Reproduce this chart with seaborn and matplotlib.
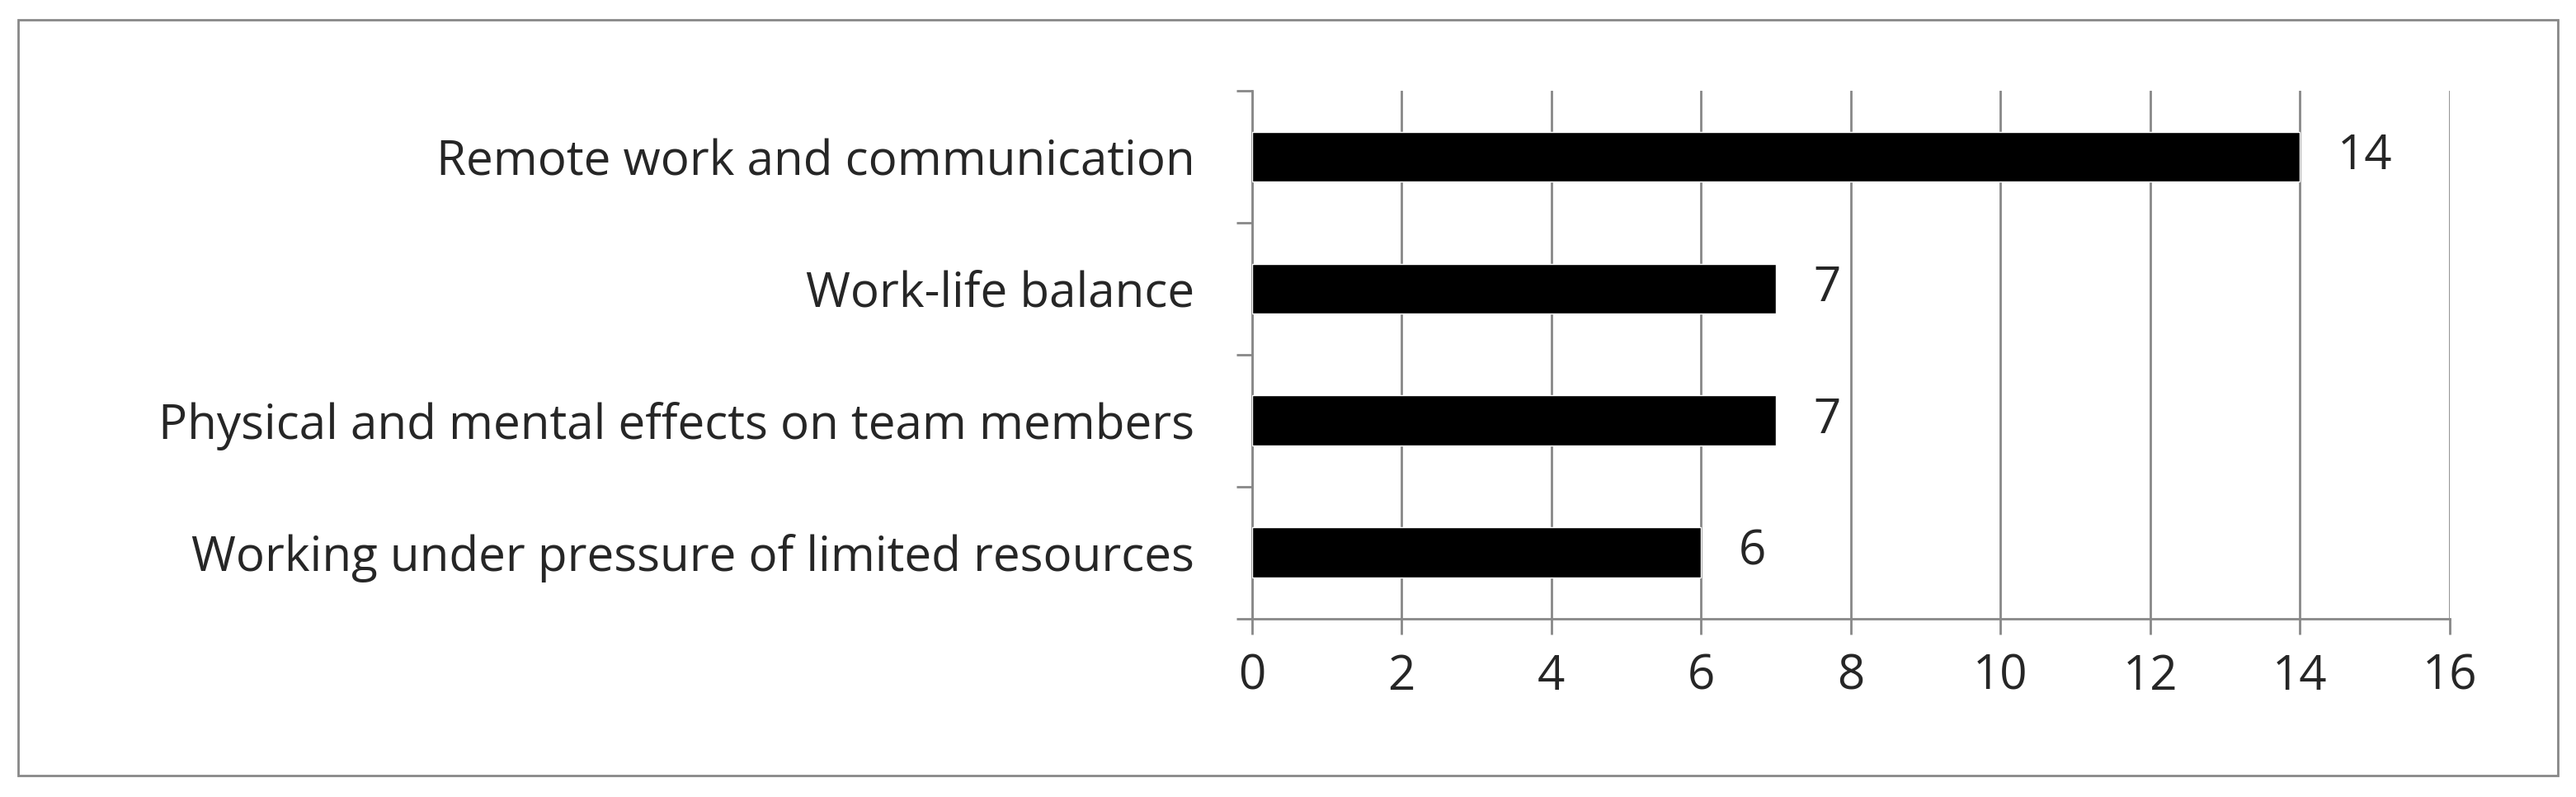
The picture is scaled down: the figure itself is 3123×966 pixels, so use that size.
import matplotlib
matplotlib.use("Agg")
import matplotlib.pyplot as plt
from matplotlib.patches import Rectangle
import seaborn as sns
import pandas as pd

categories = [
    "Remote work and communication",
    "Work-life balance",
    "Physical and mental effects on team members",
    "Working under pressure of limited resources",
]
counts = [14, 7, 7, 6]
x_ticks = [0, 2, 4, 6, 8, 10, 12, 14, 16]

df = pd.DataFrame({"category": categories, "count": counts})

sns.set_theme(style="white")
plt.rcParams["font.family"] = ["Open Sans", "DejaVu Sans"]

fig = plt.figure(figsize=(31.23, 9.66), dpi=100)
fig.patches.append(Rectangle((0.007, 0.027), 0.986, 0.948, transform=fig.transFigure,
                             fill=False, edgecolor="#888888", linewidth=2))
ax = fig.add_axes([0.486, 0.224, 0.465, 0.662])

sns.barplot(data=df, y="category", x="count", color="black", width=0.38,
            saturation=1, ax=ax, zorder=3)

ax.set_xlim(0, 16)
ax.set_ylim(3.5, -0.5)
ax.set_xticks(x_ticks)
ax.xaxis.grid(True, color="#888888", linewidth=2)
ax.set_xlabel("")
ax.set_ylabel("")
for s in ["top", "right"]:
    ax.spines[s].set_visible(False)
for s in ["left", "bottom"]:
    ax.spines[s].set_color("#888888")
    ax.spines[s].set_linewidth(2)

ax.tick_params(axis="x", labelsize=42, length=14, width=2, color="#888888",
               direction="out", bottom=True, pad=16)
ax.tick_params(axis="y", labelsize=42, length=0, pad=50)
ax.set_yticks(range(len(categories)))
ax.set_yticks([-0.5, 0.5, 1.5, 2.5, 3.5], minor=True)
ax.tick_params(axis="y", which="minor", length=14, width=2, color="#888888", left=True)

for i, v in enumerate(counts):
    ax.text(v + 0.5, i, str(v), va="center", ha="left", fontsize=42)

fig.savefig("out.png", dpi=100)
